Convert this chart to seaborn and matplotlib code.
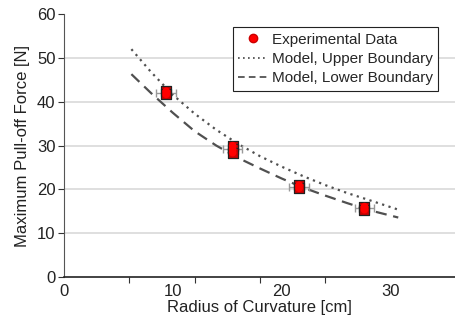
import matplotlib
matplotlib.use("Agg")
import matplotlib.pyplot as plt
import seaborn as sns
import pandas as pd
from matplotlib.lines import Line2D

# Experimental data (replicates per radius)
exp_radius = [9.4, 9.4, 15.5, 15.5, 15.5, 21.6, 21.6, 27.6, 27.6]
exp_force = [42.4, 41.7, 30.0, 29.2, 28.4, 21.0, 20.3, 16.1, 15.4]
group_radius = [9.4, 15.5, 21.6, 27.6]
group_force = [42.0, 29.2, 20.6, 15.7]
radius_err = [0.9, 0.9, 0.9, 0.9]

# Model curves
upper_x = [6.2, 8, 10, 12, 14, 16, 18, 20, 22, 24, 26, 28, 30.7]
upper_y = [52.0, 46.8, 41.6, 37.3, 33.6, 30.4, 27.6, 25.2, 23.0, 21.0, 19.2, 17.6, 15.4]
lower_x = [6.2, 8, 10, 12, 14, 16, 18, 20, 22, 24, 26, 28, 30.7]
lower_y = [46.3, 42.0, 37.5, 33.3, 30.0, 27.2, 24.8, 22.5, 20.4, 18.6, 16.9, 15.3, 13.6]

xlabel = "Radius of Curvature [cm]"
ylabel = "Maximum Pull-off Force [N]"

sns.set_theme(style="white")
plt.rcParams['font.family'] = ['Liberation Sans', 'DejaVu Sans']

fig = plt.figure(figsize=(4.56, 3.28), dpi=100)
ax = fig.add_axes([0.140, 0.155, 0.86, 0.802])

for yv in [10, 20, 30, 40, 50]:
    ax.axhline(yv, color='#d9d9d9', lw=1.2, zorder=0)

sns.lineplot(x=upper_x, y=upper_y, ax=ax, color='#505050', lw=1.6,
             linestyle=(0, (1, 2)), zorder=2)
sns.lineplot(x=lower_x, y=lower_y, ax=ax, color='#505050', lw=1.6,
             linestyle=(0, (5, 3)), zorder=2)

ax.errorbar(group_radius, group_force, xerr=radius_err, fmt='none',
            ecolor='#999999', elinewidth=1.0, capsize=3, capthick=1.0, zorder=3)

df = pd.DataFrame({"r": exp_radius, "f": exp_force})
sns.scatterplot(data=df, x="r", y="f", ax=ax, marker='s', s=48,
                color='#cc0000', edgecolor='#222222', linewidth=0.9, zorder=4)
sns.scatterplot(data=df, x="r", y="f", ax=ax, marker='o', s=30,
                color='#ff0000', edgecolor='none', linewidth=0, zorder=5)

ax.set_xlim(0, 36)
ax.set_ylim(0, 60)
ax.set_xticks([0, 10, 20, 30])
ax.set_xticks([0, 6, 12, 18, 24, 30, 36], minor=True)
ax.set_yticks([0, 10, 20, 30, 40, 50, 60])
ax.tick_params(axis='x', which='major', length=0, labelsize=12, pad=5, labelcolor='#222222')
ax.tick_params(axis='x', which='minor', length=4, width=0.8, color='#333333', direction='out', bottom=True)
ax.tick_params(axis='y', which='major', length=4, width=0.8, color='#333333', direction='out', left=True,
               labelsize=12, labelcolor='#222222', pad=2)
ax.set_xlabel(xlabel, fontsize=12, color='#222222', labelpad=1)
ax.set_ylabel(ylabel, fontsize=12, color='#222222', labelpad=5)

for s in ['top', 'right']:
    ax.spines[s].set_visible(False)
ax.spines['left'].set_color('#555555')
ax.spines['left'].set_linewidth(0.8)
ax.spines['bottom'].set_color('#222222')
ax.spines['bottom'].set_linewidth(1.2)

handles = [
    Line2D([], [], marker='o', color='#ff0000', markeredgecolor='#cc0000', linestyle='none', markersize=6),
    Line2D([], [], color='#444444', lw=1.2, linestyle=(0, (1, 2))),
    Line2D([], [], color='#444444', lw=1.2, linestyle=(0, (4, 2.5))),
]
labels = ["Experimental Data", "Model, Upper Boundary", "Model, Lower Boundary"]
leg = ax.legend(handles, labels, loc='upper right', bbox_to_anchor=(0.954, 0.95),
                fontsize=11, frameon=True, fancybox=False, framealpha=1,
                edgecolor='#222222', handlelength=1.9, handletextpad=0.3,
                borderpad=0.35, labelspacing=0.35, borderaxespad=0)
leg.get_frame().set_linewidth(0.8)

fig.savefig("out.png", dpi=100)
